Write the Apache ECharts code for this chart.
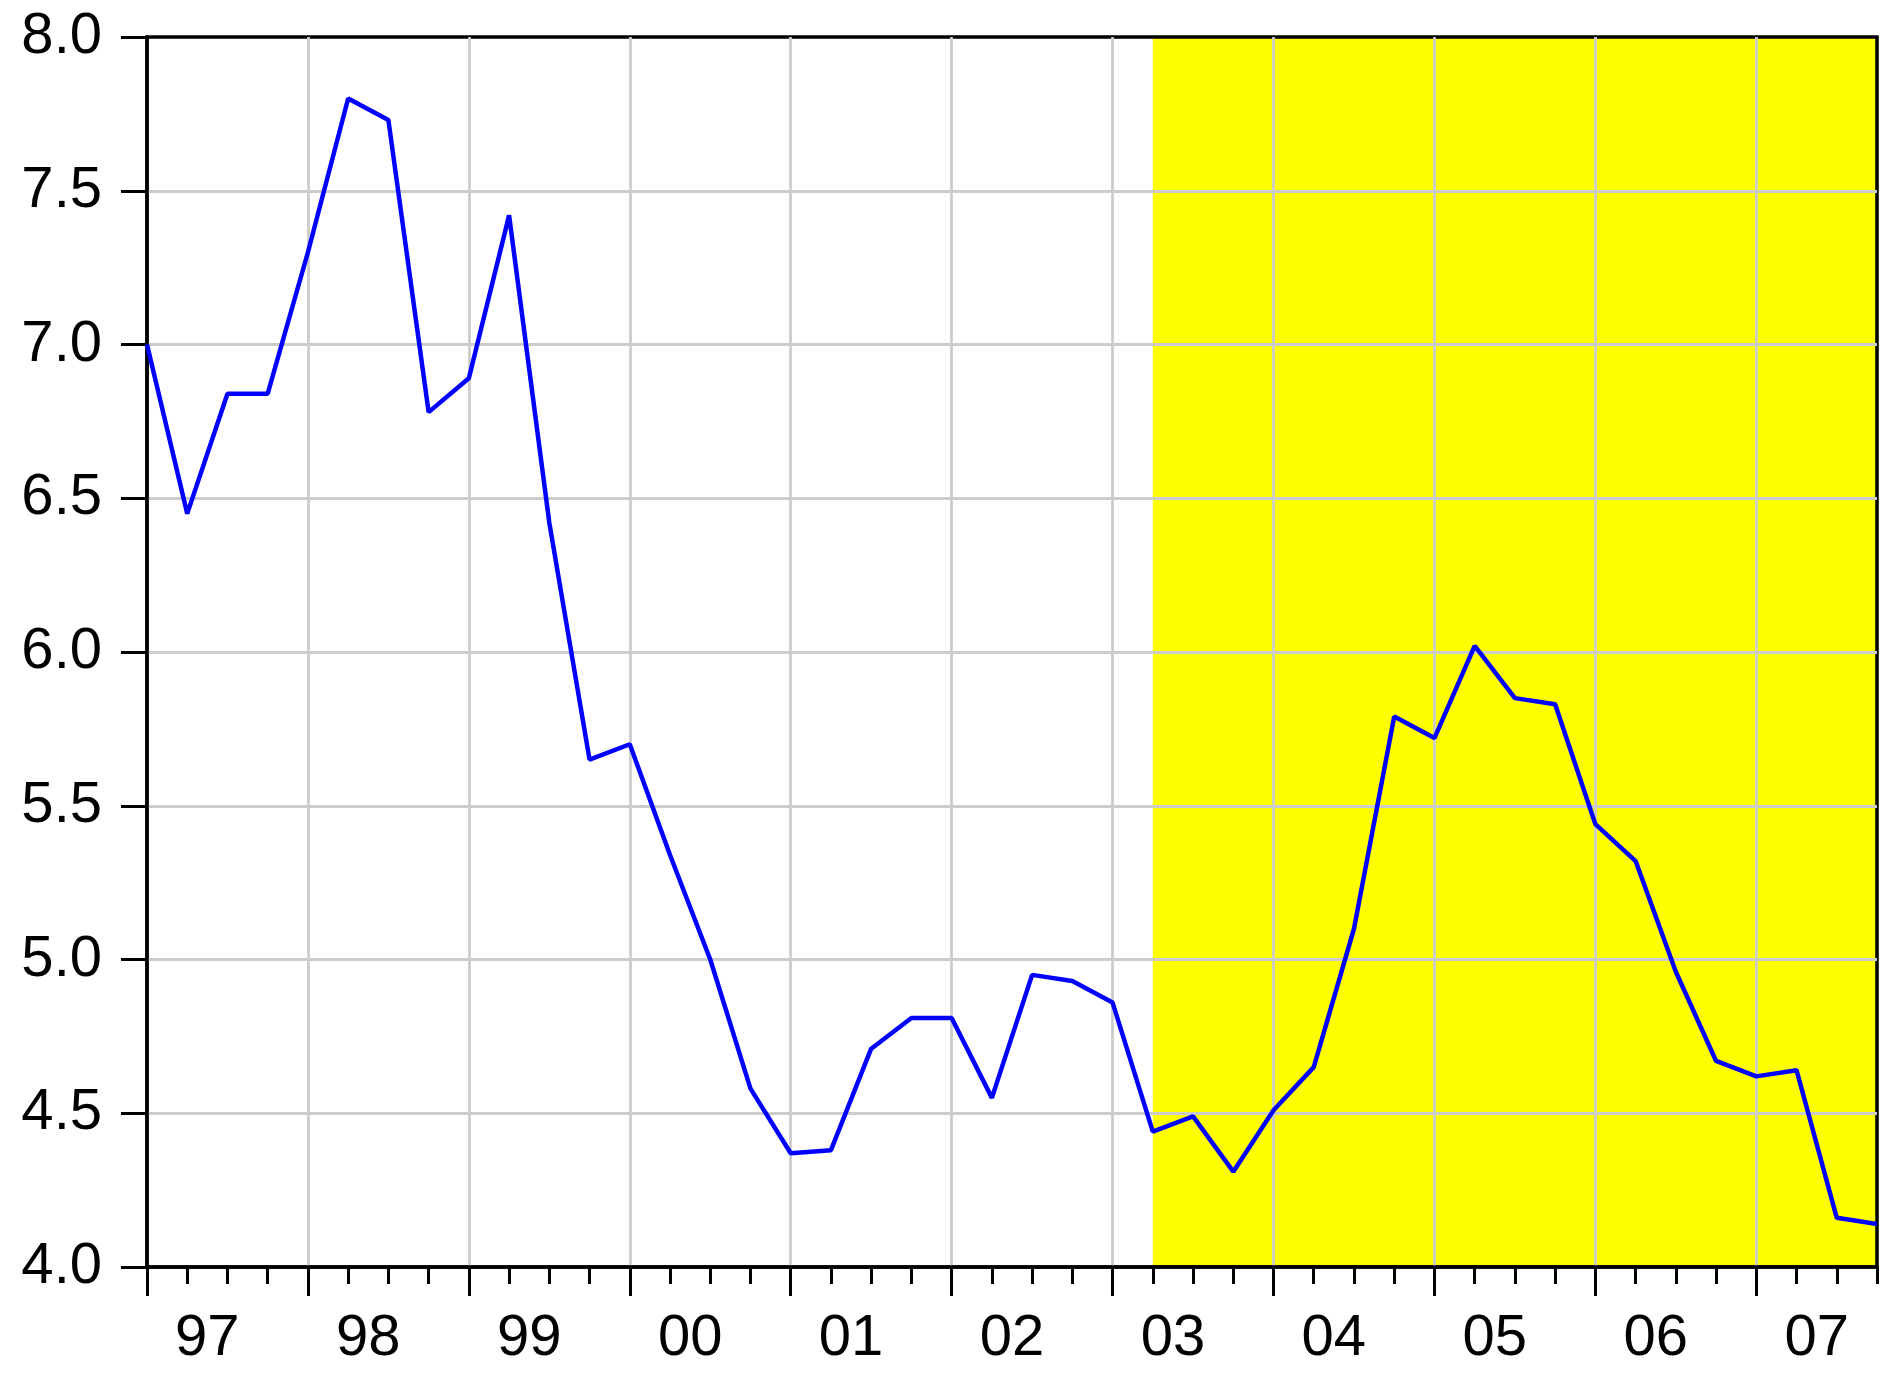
<!DOCTYPE html>
<html>
<head>
<meta charset="utf-8">
<script src="https://cdn.jsdelivr.net/npm/echarts@6/dist/echarts.min.js"></script>
<style>
  html, body { margin: 0; padding: 0; background: #fff; }
  #chart { width: 1899px; height: 1380px; }
</style>
</head>
<body>
<div id="chart"></div>
<script>
// quarterly series, 1997Q1 .. 2007Q4
const years = [1997, 1998, 1999, 2000, 2001, 2002, 2003, 2004, 2005, 2006, 2007];
const yearLabels = ['97', '98', '99', '00', '01', '02', '03', '04', '05', '06', '07'];
const values = [
  7.00, 6.45, 6.84, 6.84, 7.30, 7.80, 7.73, 6.78, 6.89, 7.42,
  6.42, 5.65, 5.70, 5.34, 5.00, 4.58, 4.37, 4.38, 4.71, 4.81,
  4.81, 4.55, 4.95, 4.93, 4.86, 4.44, 4.49, 4.31, 4.51, 4.65,
  5.10, 5.79, 5.72, 6.02, 5.85, 5.83, 5.44, 5.32, 4.96, 4.67,
  4.62, 4.64, 4.16, 4.14
];
const shadeFrom = '2003Q2';
const shadeTo = '2007Q4';

const quarters = [];
years.forEach(y => { for (let q = 1; q <= 4; q++) quarters.push(y + 'Q' + q); });

const yearStarts = years.map((y, i) => i * 4);
const labelPos = years.map((y, i) => i * 4 + 1.5);

const font = "'Liberation Sans', Arial, sans-serif";

let chart = echarts.init(document.getElementById('chart'));
chart.setOption({
  animation: false,
  grid: {
    left: 147, right: 22, top: 37, bottom: 113,
    show: true, borderColor: '#000', borderWidth: 3.5, backgroundColor: 'transparent'
  },
  xAxis: [
    {
      type: 'category',
      z: 2,
      data: quarters,
      boundaryGap: false,
      axisLine: { lineStyle: { color: '#000', width: 3.5 } },
      axisTick: { interval: 0, length: 17, lineStyle: { color: '#000', width: 3 } },
      axisLabel: { show: false },
      splitLine: {
        show: true,
        interval: (i) => i % 4 === 0 && i > 0,
        lineStyle: { color: '#cccccc', width: 2.8 }
      }
    },
    {
      type: 'value',
      z: 2,
      min: 0,
      max: quarters.length - 1,
      position: 'bottom',
      axisLine: { show: false },
      axisTick: { show: true, customValues: yearStarts, length: 29, lineStyle: { color: '#000', width: 3 } },
      axisLabel: {
        customValues: labelPos,
        formatter: (v) => yearLabels[Math.round((v - 1.5) / 4)],
        fontSize: 58, color: '#000', fontFamily: font, margin: 43
      },
      splitLine: { show: false }
    }
  ],
  yAxis: {
    type: 'value',
    z: 2,
    min: 4,
    max: 8,
    interval: 0.5,
    axisLine: { show: true, lineStyle: { color: '#000', width: 3.5 } },
    axisTick: { show: true, length: 26, lineStyle: { color: '#000', width: 3 } },
    axisLabel: {
      formatter: (v) => v.toFixed(1),
      fontSize: 58, color: '#000', fontFamily: font, margin: 45
    },
    splitLine: {
      show: true, showMinLine: false, showMaxLine: false,
      lineStyle: { color: '#cccccc', width: 2.8 }
    }
  },
  series: [
    {
      type: 'line',
      z: 0,
      data: values,
      symbol: 'none',
      silent: true,
      lineStyle: { opacity: 0 },
      markArea: {
        z: -1,
        silent: true,
        itemStyle: { color: '#ffff00', opacity: 1 },
        data: [[{ xAxis: shadeFrom }, { xAxis: shadeTo }]]
      }
    },
    {
      type: 'line',
      z: 5,
      data: values,
      symbol: 'none',
      lineStyle: { color: '#0000ff', width: 4.5 }
    }
  ]
});
</script>
</body>
</html>
